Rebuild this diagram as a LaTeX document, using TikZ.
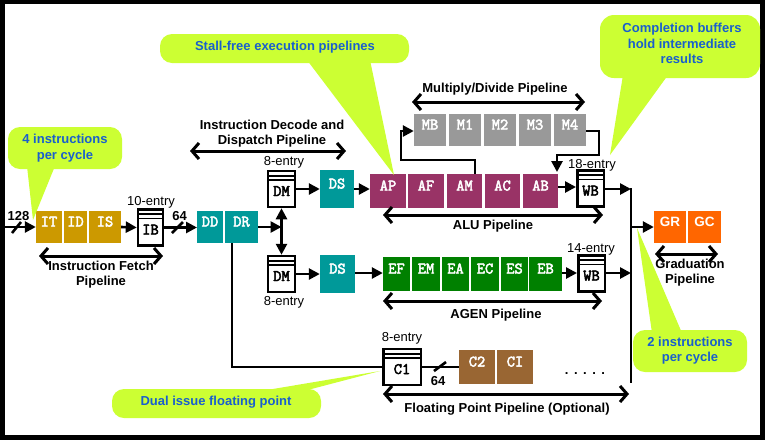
\documentclass[tikz,border=0pt]{standalone}
\usepackage{fontspec}
\setmainfont{Liberation Sans}
\newfontfamily\boxfam{Latin Modern Mono}[FakeBold=3]
\usetikzlibrary{arrows.meta}
\definecolor{cgold}{HTML}{CC9900}
\definecolor{cteal}{HTML}{009999}
\definecolor{cpurp}{HTML}{993366}
\definecolor{cgray}{HTML}{999999}
\definecolor{cgreen}{HTML}{008000}
\definecolor{cbrown}{HTML}{996633}
\definecolor{corange}{HTML}{FF6600}
\definecolor{clime}{HTML}{CCFF33}
\definecolor{cblue}{RGB}{25,95,205}
\newcommand{\boxf}{\fontsize{16}{16}\boxfam}
\newcommand{\lblf}{\fontsize{13}{15}\selectfont\bfseries}
\newcommand{\entf}{\fontsize{13}{15}\selectfont}
\newcommand{\callf}{\fontsize{13}{15.5}\selectfont\bfseries\color{cblue}}
\tikzset{
  unit/.style={inner sep=0pt, text=white, font=\boxf, text height=15.5pt, text depth=16.5pt, minimum height=32pt},
  bufbox/.style={draw, line width=2.5pt, fill=white, inner sep=0pt, font=\boxf,
     text height=25pt, text depth=11pt, minimum height=35pt,
     path picture={
       \draw[line width=1.8pt] ([yshift=-4.8pt]path picture bounding box.north west) -- ([yshift=-4.8pt]path picture bounding box.north east);
       \draw[line width=1.8pt] ([yshift=-9pt]path picture bounding box.north west) -- ([yshift=-9pt]path picture bounding box.north east);
     }},
  flow/.style={line width=2.6pt, -{Triangle[length=11pt,width=11pt]}},
  plain/.style={line width=2.6pt},
  span/.style={line width=3pt, {Straight Barb[length=7pt,width=16pt]}-{Straight Barb[length=7pt,width=16pt]}},
  lbl/.style={font=\lblf, align=center, inner sep=0pt},
  ent/.style={font=\entf, inner sep=0pt},
  call/.style={fill=clime, draw=none},
  calltext/.style={font=\callf, align=center, inner sep=0pt},
}
\begin{document}
\begin{tikzpicture}[x=1pt,y=-1pt]
\useasboundingbox (0,0) rectangle (765,440);
\fill[black] (0,0) rectangle (765,440);
\fill[white] (5,4) rectangle (760,435);

% fetch stage
\node[unit, fill=cgold, minimum width=26pt] (it) at (49,227) {IT};
\node[unit, fill=cgold, minimum width=23pt] (id) at (75.5,227) {ID};
\node[unit, fill=cgold, minimum width=32pt] (is) at (105,227) {IS};
\node[bufbox, minimum width=25pt] (ib) at (150.5,227.5) {IB};
\node[ent] (ibent) at (151,202) {10-entry};
\coordinate (in) at (5,227);
\draw[flow] (in) -- (it.west);
\draw[plain] (12,233) -- (21,222);
\node[lbl] (w128) at (18.5,216) {128};
\draw[flow] (is.east) -- (ib.west);
\draw[flow] (ib.east) -- (ib.east -| 197,0);
\draw[plain] (172,233) -- (183,222);
\node[lbl] (w64a) at (179.5,216) {64};
\draw[span] (39,256) -- (163,256);
\node[lbl] (fetchlbl) at (101,274.5) {Instruction Fetch\\Pipeline};

% decode / dispatch
\node[unit, fill=cteal, minimum width=26pt] (dd) at (210,227) {DD};
\node[unit, fill=cteal, minimum width=33pt] (dr) at (241.5,227) {DR};
\node[bufbox, minimum width=27pt, minimum height=36pt] (dm1) at (281.5,189) {DM};
\node[bufbox, minimum width=27pt, minimum height=36pt] (dm2) at (281.5,274) {DM};
\node[ent] (dm1ent) at (284,162) {8-entry};
\node[ent] (dm2ent) at (284,302) {8-entry};
\coordinate (jn) at (281.5,227);
\draw[flow] (dr.east |- jn) -- (jn);
\draw[line width=2.6pt, {Triangle[length=11pt,width=11pt]}-{Triangle[length=11pt,width=11pt]}] (dm1.south) -- (dm2.north);
\node[unit, fill=cteal, minimum width=34pt, minimum height=38pt] (ds1) at (337,189) {DS};
\node[unit, fill=cteal, minimum width=35pt, minimum height=38pt] (ds2) at (337.5,274) {DS};
\draw[flow] (dm1.east) -- (ds1.west);
\draw[flow] (dm2.east) -- (ds2.west);
\draw[span] (190,151) -- (346,151);
\node[lbl] (declbl) at (272,133.5) {Instruction Decode and\\Dispatch Pipeline};

% ALU pipeline
\node[unit, fill=cpurp, minimum width=36pt, minimum height=34pt] (ap) at (388,191) {AP};
\node[unit, fill=cpurp, minimum width=36pt, minimum height=34pt] (af) at (426,191) {AF};
\node[unit, fill=cpurp, minimum width=35pt, minimum height=34pt] (am) at (464.5,191) {AM};
\node[unit, fill=cpurp, minimum width=35pt, minimum height=34pt] (ac) at (502.5,191) {AC};
\node[unit, fill=cpurp, minimum width=35pt, minimum height=34pt] (ab) at (540.5,191) {AB};
\draw[flow] (ds1.east) -- (ds1.east -| ap.west);
\node[bufbox, minimum width=26.5pt] (wb1) at (590.5,188.5) {WB};
\node[ent] (wb1ent) at (592,165) {18-entry};
\draw[flow] (ab.east |- 0,187) -- (wb1.west |- 0,187);
\draw[span] (383,215) -- (603,215);
\node[lbl] (alulbl) at (493,226) {ALU Pipeline};

% multiply / divide
\node[unit, fill=cgray, minimum width=32pt] (mb) at (430,130) {MB};
\node[unit, fill=cgray, minimum width=32pt] (m1) at (465,130) {M1};
\node[unit, fill=cgray, minimum width=32pt] (m2) at (500,130) {M2};
\node[unit, fill=cgray, minimum width=32pt] (m3) at (535,130) {M3};
\node[unit, fill=cgray, minimum width=32pt] (m4) at (570,130) {M4};
\draw[flow] (am.north -| 475,0) -- (475,160) -- (401,160) -- (401,131) -- (mb.west |- 0,131);
\coordinate (mdin) at (557,172);
\draw[flow] (m4.east |- 0,131) -- (599,131) -- (599,155) -- (557,155) -- (mdin);
\draw[span] (412,102) -- (585,102);
\node[lbl] (mdlbl) at (495,89) {Multiply/Divide Pipeline};

% AGEN pipeline
\node[unit, fill=cgreen, minimum width=27pt, minimum height=34pt] (ef) at (396.5,274) {EF};
\node[unit, fill=cgreen, minimum width=28pt, minimum height=34pt] (em) at (426,274) {EM};
\node[unit, fill=cgreen, minimum width=27pt, minimum height=34pt] (ea) at (455.5,274) {EA};
\node[unit, fill=cgreen, minimum width=28pt, minimum height=34pt] (ec) at (485,274) {EC};
\node[unit, fill=cgreen, minimum width=27pt, minimum height=34pt] (es) at (514.5,274) {ES};
\node[unit, fill=cgreen, minimum width=33pt, minimum height=34pt] (eb) at (545.5,274) {EB};
\draw[flow] (ds2.east |- 0,273) -- (ef.west |- 0,273);
\node[bufbox, minimum width=26.5pt] (wb2) at (591.5,273.5) {WB};
\node[ent] (wb2ent) at (591,249) {14-entry};
\draw[flow] (eb.east |- 0,273) -- (wb2.west |- 0,273);
\draw[span] (383,301) -- (602,301);
\node[lbl] (agenlbl) at (496,315) {AGEN Pipeline};

% floating point
\node[bufbox, minimum width=37.5pt] (c1) at (402,367) {C1};
\node[ent] (c1ent) at (402,338) {8-entry};
\node[unit, fill=cbrown, minimum width=36pt, minimum height=34pt] (c2) at (477,367) {C2};
\node[unit, fill=cbrown, minimum width=36pt, minimum height=34pt] (ci) at (515,367) {CI};
\draw[plain] (dr.south -| 232,0) -- (232,367) -- (c1.west |- 0,367);
\draw[plain] (c1.east |- 0,367) -- (c2.west |- 0,367);
\draw[plain] (434,371) -- (446,362);
\node[lbl] (w64b) at (438,381) {64};
\node[lbl] (dots) at (585,374) {.\hspace{5.5pt}.\hspace{5.5pt}.\hspace{5.5pt}.\hspace{5.5pt}.};
\draw[span] (383,394) -- (629,394);
\node[lbl] (fplbl) at (507,409) {Floating Point Pipeline (Optional)};

% graduation
\coordinate (ctop) at (631,188);
\coordinate (cbot) at (631,383);
\draw[plain] (ctop) -- (cbot);
\draw[flow] (wb1.east |- 0,189) -- (631,189);
\draw[flow] (wb2.east |- 0,273) -- (631,273);
\node[unit, fill=corange, font=\fontsize{13.5}{13.5}\selectfont\bfseries, minimum width=32pt] (gr) at (670,227) {GR};
\node[unit, fill=corange, font=\fontsize{13.5}{13.5}\selectfont\bfseries, minimum width=33pt] (gc) at (704.5,227) {GC};
\draw[flow] (631,227) -- (gr.west);
\draw[span] (655,254) -- (718,254);
\node[lbl] (gradlbl) at (690,272.5) {Graduation\\Pipeline};

% callouts
\fill[call] (27,166) -- (55,166) -- (33,220) -- cycle;
\fill[call, rounded corners=12pt] (8,127) rectangle (122,169);
\node[calltext] (c4i) at (65,148) {4 instructions\\per cycle};

\fill[call] (307,60) -- (370,60) -- (394,175) -- cycle;
\fill[call, rounded corners=12pt] (160,34) rectangle (409,63);
\node[calltext] (csf) at (285,47) {Stall-free execution pipelines};

\fill[call] (623,75) -- (668,75) -- (610,155) -- cycle;
\fill[call, rounded corners=14pt] (600,15) rectangle (760,78);
\node[calltext] (ccb) at (682,43.5) {Completion buffers\\hold intermediate\\results};

\fill[call] (652,333) -- (682,333) -- (637,228) -- cycle;
\fill[call, rounded corners=12pt] (633,330) rectangle (747,372);
\node[calltext] (c2i) at (690,350.5) {2 instructions\\per cycle};

\fill[call] (255,392) -- (300,392) -- (380,371) -- cycle;
\fill[call, rounded corners=12pt] (112,389) rectangle (321,418);
\node[calltext] (cdi) at (216,402) {Dual issue floating point};
\end{tikzpicture}
\end{document}
